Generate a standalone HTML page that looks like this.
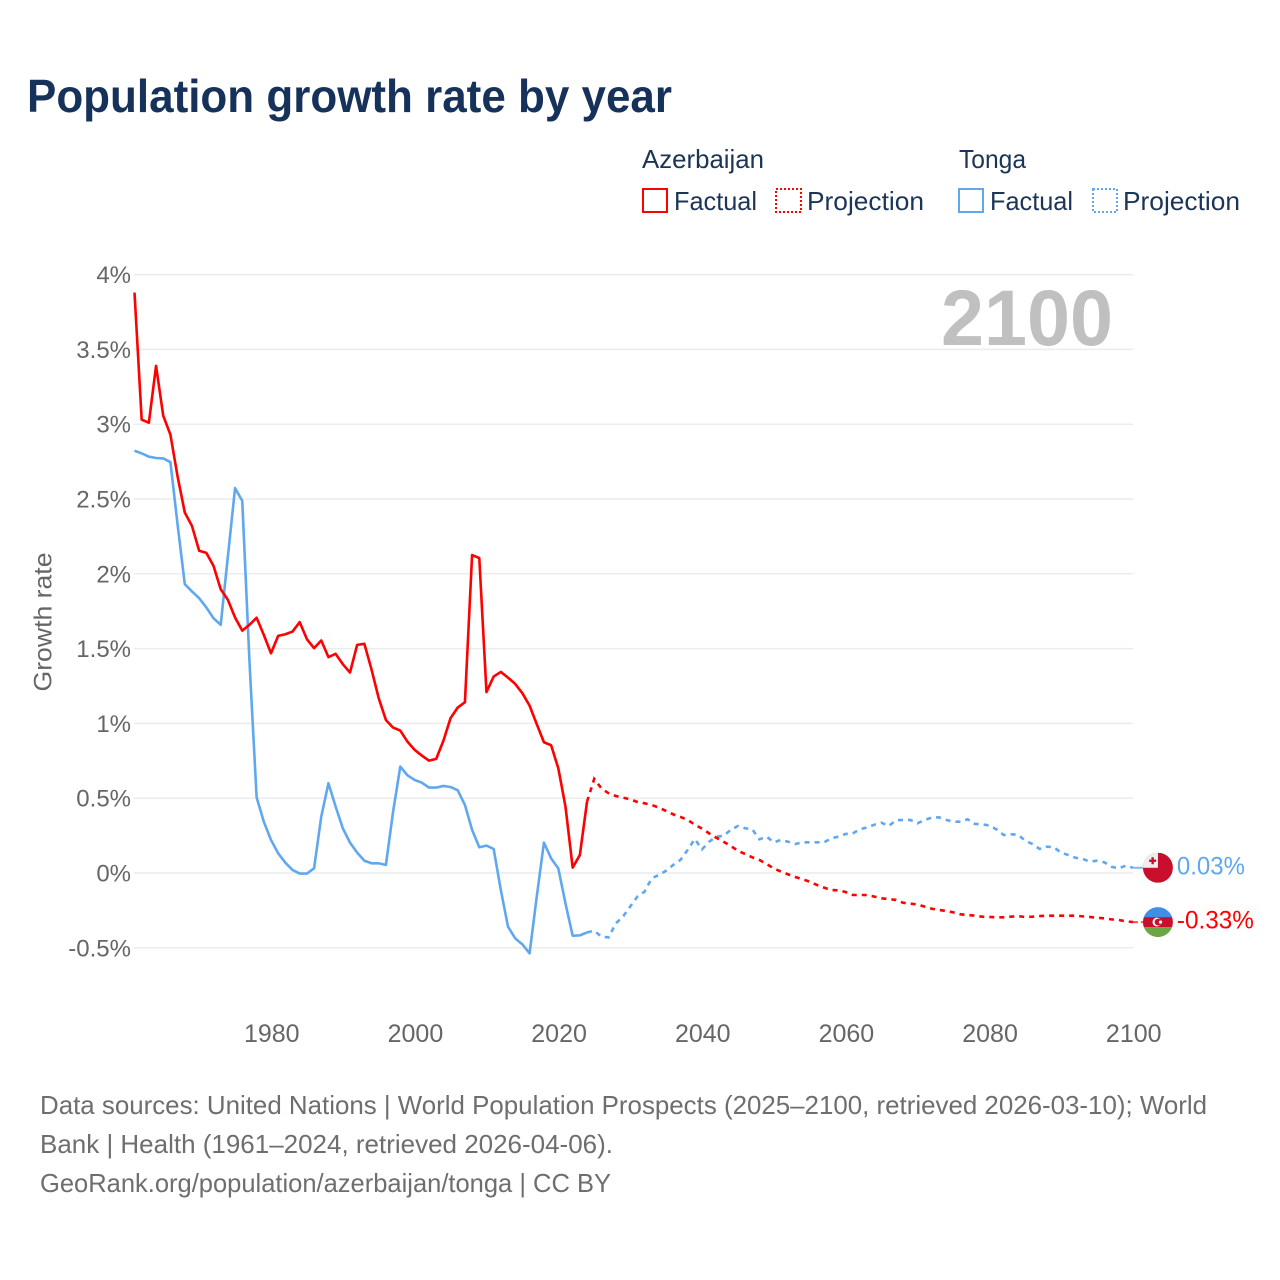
<!DOCTYPE html>
<html lang="en">
<head>
<meta charset="utf-8">
<title>Population growth rate by year</title>
<style>
html,body{margin:0;padding:0;background:#fff;}
svg{display:block;}
text{font-family:"Liberation Sans",sans-serif;}
</style>
</head>
<body>
<svg id="chart" xmlns="http://www.w3.org/2000/svg" width="1280" height="1280" viewBox="0 0 1280 1280">
  <rect width="1280" height="1280" fill="#ffffff"/>
  <text x="27" y="112" font-size="46" font-weight="700" fill="#17325a" textLength="645" lengthAdjust="spacingAndGlyphs">Population growth rate by year</text>

  <g font-size="26" fill="#1c3557">
    <text x="642" y="168" textLength="122" lengthAdjust="spacingAndGlyphs">Azerbaijan</text>
    <text x="959" y="168" textLength="67" lengthAdjust="spacingAndGlyphs">Tonga</text>

    <g>
      <rect x="643" y="189" width="24" height="23" fill="none" stroke="#ff0000" stroke-width="2"/>
      <text x="674" y="210" textLength="83" lengthAdjust="spacingAndGlyphs">Factual</text>
    </g>
    <g>
      <rect x="776" y="189" width="25" height="23" fill="none" stroke="#ff0000" stroke-width="2" stroke-dasharray="2 2"/>
      <text x="807" y="210" textLength="117" lengthAdjust="spacingAndGlyphs">Projection</text>
    </g>
    <g>
      <rect x="959" y="189" width="24" height="23" fill="none" stroke="#5fa8f0" stroke-width="2"/>
      <text x="990" y="210" textLength="83" lengthAdjust="spacingAndGlyphs">Factual</text>
    </g>
    <g>
      <rect x="1093" y="189" width="24" height="23" fill="none" stroke="#5fa8f0" stroke-width="2" stroke-dasharray="2 2"/>
      <text x="1123" y="210" textLength="117" lengthAdjust="spacingAndGlyphs">Projection</text>
    </g>
  </g>

  <g id="grid"></g>
  <g id="y-ticks"></g>
  <g id="x-ticks"></g>
  <text transform="translate(51.5,622) rotate(-90)" text-anchor="middle" font-size="25" fill="#666666" textLength="139" lengthAdjust="spacingAndGlyphs">Growth rate</text>
  <text x="941" y="345" font-size="79" font-weight="700" fill="#c0c0c0" textLength="172" lengthAdjust="spacingAndGlyphs">2100</text>

  <g id="series"></g>

  <defs>
    <clipPath id="flag-clip"><circle cx="0" cy="0" r="15"/></clipPath>
  </defs>

  <g id="flag-tonga">
    <g clip-path="url(#flag-clip)">
      <rect x="-15" y="-15" width="30" height="30" fill="#c8102e"/>
      <rect x="-15" y="-15" width="15" height="15" fill="#eeeeee"/>
      <rect x="-6.5" y="-10.5" width="2.4" height="7" fill="#c8102e"/>
      <rect x="-8.8" y="-8.2" width="7" height="2.4" fill="#c8102e"/>
    </g>
  </g>
  <g id="flag-azerbaijan">
    <g clip-path="url(#flag-clip)">
      <rect x="-15" y="-15" width="30" height="10" fill="#3f8fe8"/>
      <rect x="-15" y="-5" width="30" height="10" fill="#c8102e"/>
      <rect x="-15" y="5" width="30" height="10" fill="#6ca544"/>
      <circle cx="-1" cy="0" r="4.4" fill="#ffffff"/>
      <circle cx="0.2" cy="0" r="3.5" fill="#c8102e"/>
      <circle cx="2.6" cy="0" r="1.6" fill="#ffffff"/>
    </g>
  </g>

  <g id="end-labels"></g>

  <g font-size="26" fill="#6e6e6e">
    <text x="40" y="1114" textLength="1167" lengthAdjust="spacingAndGlyphs">Data sources: United Nations | World Population Prospects (2025–2100, retrieved 2026-03-10); World</text>
    <text x="40" y="1153" textLength="573" lengthAdjust="spacingAndGlyphs">Bank | Health (1961–2024, retrieved 2026-04-06).</text>
    <text x="40" y="1192" textLength="571" lengthAdjust="spacingAndGlyphs">GeoRank.org/population/azerbaijan/tonga | CC BY</text>
  </g>
</svg>

<script>
const yTickValues = [-0.5, 0, 0.5, 1, 1.5, 2, 2.5, 3, 3.5, 4];
const yTickLabels = ['-0.5%', '0%', '0.5%', '1%', '1.5%', '2%', '2.5%', '3%', '3.5%', '4%'];
const xTickValues = [1980, 2000, 2020, 2040, 2060, 2080, 2100];
const xTickLabels = ['1980', '2000', '2020', '2040', '2060', '2080', '2100'];

const factualYears = [1961,1962,1963,1964,1965,1966,1967,1968,1969,1970,1971,1972,1973,1974,1975,1976,1977,1978,1979,1980,1981,1982,1983,1984,1985,1986,1987,1988,1989,1990,1991,1992,1993,1994,1995,1996,1997,1998,1999,2000,2001,2002,2003,2004,2005,2006,2007,2008,2009,2010,2011,2012,2013,2014,2015,2016,2017,2018,2019,2020,2021,2022,2023,2024];
const projectionYears = [2024,2025,2026,2027,2028,2029,2030,2031,2032,2033,2034,2035,2036,2037,2038,2039,2040,2041,2042,2043,2044,2045,2046,2047,2048,2049,2050,2051,2052,2053,2054,2055,2056,2057,2058,2059,2060,2061,2062,2063,2064,2065,2066,2067,2068,2069,2070,2071,2072,2073,2074,2075,2076,2077,2078,2079,2080,2081,2082,2083,2084,2085,2086,2087,2088,2089,2090,2091,2092,2093,2094,2095,2096,2097,2098,2099,2100];

const azerbaijanFactual = [3.88,3.03,3.01,3.39,3.057,2.93,2.65,2.41,2.32,2.154,2.14,2.053,1.897,1.826,1.708,1.62,1.659,1.706,1.592,1.469,1.585,1.596,1.614,1.677,1.563,1.503,1.554,1.443,1.465,1.396,1.34,1.525,1.532,1.36,1.168,1.023,0.972,0.952,0.878,0.823,0.785,0.751,0.763,0.883,1.035,1.106,1.142,2.125,2.105,1.209,1.313,1.344,1.306,1.264,1.202,1.119,0.995,0.874,0.854,0.70,0.444,0.036,0.12,0.477];
const azerbaijanProjection = [0.477,0.629,0.566,0.533,0.515,0.504,0.493,0.475,0.466,0.455,0.437,0.415,0.392,0.375,0.355,0.323,0.297,0.265,0.236,0.209,0.181,0.149,0.127,0.105,0.087,0.06,0.031,0.009,-0.009,-0.027,-0.042,-0.058,-0.08,-0.098,-0.114,-0.116,-0.127,-0.147,-0.147,-0.147,-0.158,-0.169,-0.174,-0.18,-0.199,-0.205,-0.21,-0.225,-0.239,-0.247,-0.254,-0.263,-0.276,-0.281,-0.285,-0.292,-0.294,-0.296,-0.296,-0.292,-0.288,-0.294,-0.292,-0.288,-0.285,-0.285,-0.285,-0.285,-0.285,-0.29,-0.294,-0.299,-0.303,-0.31,-0.314,-0.323,-0.328];
const tongaFactual = [2.823,2.805,2.783,2.774,2.771,2.747,2.328,1.931,1.882,1.837,1.775,1.703,1.659,2.116,2.573,2.488,1.42,0.506,0.343,0.221,0.132,0.069,0.02,-0.004,-0.004,0.031,0.377,0.6,0.444,0.299,0.203,0.136,0.082,0.065,0.065,0.054,0.41,0.711,0.653,0.622,0.604,0.571,0.571,0.582,0.575,0.553,0.455,0.288,0.172,0.183,0.161,-0.114,-0.359,-0.437,-0.477,-0.537,-0.158,0.203,0.098,0.031,-0.203,-0.419,-0.417,-0.397];
const tongaProjection = [-0.397,-0.386,-0.426,-0.43,-0.337,-0.292,-0.225,-0.158,-0.125,-0.036,-0.013,0.015,0.054,0.087,0.154,0.227,0.158,0.209,0.243,0.248,0.288,0.314,0.299,0.292,0.225,0.243,0.205,0.221,0.209,0.194,0.205,0.205,0.205,0.205,0.232,0.243,0.261,0.265,0.292,0.305,0.323,0.336,0.314,0.352,0.355,0.355,0.332,0.355,0.37,0.372,0.355,0.343,0.343,0.359,0.328,0.326,0.317,0.292,0.254,0.259,0.256,0.216,0.194,0.161,0.176,0.172,0.136,0.12,0.102,0.094,0.076,0.082,0.072,0.042,0.031,0.049,0.035];

const endValueLabels = ['0.03%', '-0.33%'];

const SVG_NS = 'http://www.w3.org/2000/svg';
const AZ_COLOR = '#ff0000';
const TO_COLOR = '#5fa8f0';

function xScale(year) {
  return 134.5 + (year - 1961) * 7.183;
}
function yScale(value) {
  return 873 - value * 149.6;
}
function pathFrom(years, values) {
  return values.map(function (v, i) {
    return (i ? 'L' : 'M') + xScale(years[i]).toFixed(2) + ' ' + yScale(v).toFixed(2);
  }).join(' ');
}
function make(tag, attrs) {
  const node = document.createElementNS(SVG_NS, tag);
  Object.keys(attrs).forEach(function (k) { node.setAttribute(k, attrs[k]); });
  return node;
}

const gridGroup = document.getElementById('grid');
const yTickGroup = document.getElementById('y-ticks');
const xTickGroup = document.getElementById('x-ticks');
const seriesGroup = document.getElementById('series');
const labelGroup = document.getElementById('end-labels');

yTickValues.forEach(function (v, i) {
  const line = make('line', { x1: 134, x2: 1133, y1: yScale(v), y2: yScale(v), stroke: '#ececec', 'stroke-width': 1.5 });
  
  
  gridGroup.appendChild(line);

  const label = make('text', { x: 131, y: yScale(v) + 8.5, 'text-anchor': 'end', 'font-size': 24, fill: '#666666' });
  
  
  label.textContent = yTickLabels[i];
  yTickGroup.appendChild(label);
});

xTickValues.forEach(function (v, i) {
  const label = make('text', { x: xScale(v) + 0.8, y: 1042, 'text-anchor': 'middle', 'font-size': 25, fill: '#666666' });
  
  
  label.textContent = xTickLabels[i];
  xTickGroup.appendChild(label);
});

const tongaFactualLine = make('path', { d: pathFrom(factualYears, tongaFactual), fill: 'none', stroke: TO_COLOR, 'stroke-width': 2.6, 'stroke-linejoin': 'round' });


seriesGroup.appendChild(tongaFactualLine);

const tongaProjectionLine = make('path', { d: pathFrom(projectionYears, tongaProjection), fill: 'none', stroke: TO_COLOR, 'stroke-width': 2.6, 'stroke-dasharray': '5 5' });


seriesGroup.appendChild(tongaProjectionLine);

const azerbaijanFactualLine = make('path', { d: pathFrom(factualYears, azerbaijanFactual), fill: 'none', stroke: AZ_COLOR, 'stroke-width': 2.6, 'stroke-linejoin': 'round' });


seriesGroup.appendChild(azerbaijanFactualLine);

const azerbaijanProjectionLine = make('path', { d: pathFrom(projectionYears, azerbaijanProjection), fill: 'none', stroke: AZ_COLOR, 'stroke-width': 2.6, 'stroke-dasharray': '5 5' });


seriesGroup.appendChild(azerbaijanProjectionLine);

const lastTonga = tongaProjection[tongaProjection.length - 1];
const lastAzerbaijan = azerbaijanProjection[azerbaijanProjection.length - 1];
const lastX = xScale(projectionYears[projectionYears.length - 1]);

const tongaConnector = make('line', { x1: lastX, x2: lastX + 12, y1: yScale(lastTonga), y2: yScale(lastTonga), stroke: TO_COLOR, 'stroke-width': 2, opacity: 0.8 });


seriesGroup.appendChild(tongaConnector);

const azerbaijanConnector = make('line', { x1: lastX, x2: lastX + 12, y1: yScale(lastAzerbaijan), y2: yScale(lastAzerbaijan), stroke: AZ_COLOR, 'stroke-width': 2, 'stroke-dasharray': '5 3', opacity: 0.7 });


seriesGroup.appendChild(azerbaijanConnector);

document.getElementById('flag-tonga').setAttribute('transform', 'translate(' + (lastX + 25) + ',' + yScale(lastTonga) + ')');
document.getElementById('flag-azerbaijan').setAttribute('transform', 'translate(' + (lastX + 25) + ',' + yScale(lastAzerbaijan) + ')');

const tongaValueLabel = make('text', { x: lastX + 44, y: yScale(lastTonga) + 6.5, 'font-size': 25, fill: TO_COLOR, textLength: 68, lengthAdjust: 'spacingAndGlyphs' });


tongaValueLabel.textContent = endValueLabels[0];
labelGroup.appendChild(tongaValueLabel);

const azerbaijanValueLabel = make('text', { x: lastX + 44, y: yScale(lastAzerbaijan) + 6.5, 'font-size': 25, fill: AZ_COLOR, textLength: 77, lengthAdjust: 'spacingAndGlyphs' });


azerbaijanValueLabel.textContent = endValueLabels[1];
labelGroup.appendChild(azerbaijanValueLabel);
</script>
</body>
</html>
